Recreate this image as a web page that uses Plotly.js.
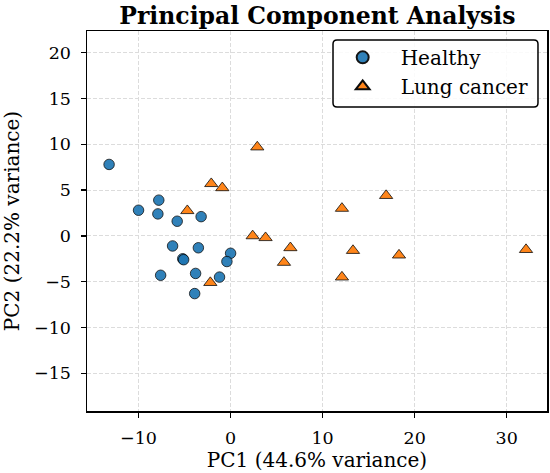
<!DOCTYPE html>
<html>
<head>
<meta charset="utf-8">
<script src="https://cdn.plot.ly/plotly-3.0.1.min.js"></script>
<style>
  html, body { margin: 0; padding: 0; background: #ffffff; }
  #chart { width: 550px; height: 473px; }
</style>
</head>
<body>
<div id="chart"></div>
<script>
// PCA scores per sample group
const healthyPC1 = [-13.2, -10.0, -7.8, -7.9, -5.8, -3.2, -6.3, -3.5, -5.2, -5.1, 0.0, -0.4, -7.6, -3.8, -1.2, -3.9];
const healthyPC2 = [7.8, 2.8, 3.9, 2.4, 1.6, 2.1, -1.1, -1.3, -2.5, -2.6, -1.9, -2.8, -4.3, -4.1, -4.5, -6.3];

const cancerPC1 = [2.9, -2.1, -0.9, -4.7, 2.4, -2.2, 16.9, 12.1, 3.8, 6.5, 5.8, 13.3, 18.3, 12.1, 32.1];
const cancerPC2 = [9.7, 5.7, 5.25, 2.75, 0.0, -5.1, 4.4, 3.0, -0.2, -1.3, -2.9, -1.6, -2.1, -4.5, -1.5];

const groupNames = ['Healthy', 'Lung cancer'];
const axisTitles = ['PC1 (44.6% variance)', 'PC2 (22.2% variance)'];
const chartTitle = 'Principal Component Analysis';
const xTicks = [-10, 0, 10, 20, 30];
const yTicks = [-15, -10, -5, 0, 5, 10, 15, 20];

const FONT = 'DejaVu Serif, Liberation Serif, serif';

const traces = [
  {
    type: 'scatter', mode: 'markers', name: groupNames[0],
    x: healthyPC1, y: healthyPC2,
    marker: { symbol: 'circle', size: 10.5, color: '#1f77b4', opacity: 0.92,
              line: { color: '#000000', width: 0.8 } }
  },
  {
    type: 'scatter', mode: 'markers', name: groupNames[1],
    x: cancerPC1, y: cancerPC2,
    marker: { symbol: 'triangle-up', size: 11.5, color: '#ff7f0e', opacity: 0.95,
              line: { color: '#000000', width: 0.8 } }
  }
];

const axisCommon = {
  showline: true, mirror: true, linecolor: '#000000', linewidth: 1.5,
  ticks: 'outside', ticklen: 5, tickwidth: 1.5, tickcolor: '#000000',
  showgrid: true, gridcolor: '#dcdcdc', gridwidth: 1, griddash: '4px,2px',
  zeroline: false,
  tickfont: { family: FONT, size: 17.5, color: '#000000' }
};

const layout = {
  width: 550, height: 473,
  margin: { l: 87, r: 3, t: 31, b: 62 },
  paper_bgcolor: '#ffffff', plot_bgcolor: '#ffffff',
  title: {
    text: '<b>' + chartTitle + '</b>',
    font: { family: FONT, size: 23.5, color: '#000000' },
    x: 0.577, xanchor: 'center', y: 0.967, yanchor: 'middle'
  },
  xaxis: Object.assign({}, axisCommon, {
    range: [-15.6, 34.38],
    tickmode: 'array', tickvals: xTicks,
    ticklabelstandoff: 5,
    title: { text: axisTitles[0], font: { family: FONT, size: 20, color: '#000000' }, standoff: 4 }
  }),
  yaxis: Object.assign({}, axisCommon, {
    range: [-19.12, 22.37],
    tickmode: 'array', tickvals: yTicks,
    ticklabelstandoff: 6,
    title: { text: axisTitles[1], font: { family: FONT, size: 20, color: '#000000' }, standoff: 10 }
  }),
  showlegend: true,
  legend: {
    x: 0.5167, y: 0.982, xanchor: 'left', yanchor: 'top',
    bgcolor: 'rgba(0,0,0,0)', borderwidth: 0,
    font: { family: FONT, size: 20, color: '#000000' },
    itemsizing: 'constant', itemwidth: 66, tracegroupgap: 0
  },
  shapes: [
    {
      // rounded frame behind the legend
      type: 'path', xref: 'paper', yref: 'paper', layer: 'above',
      path: 'M 0.5435,0.8000 L 0.9717,0.8000 Q 0.9804,0.8000 0.9804,0.8105 L 0.9804,0.9658 Q 0.9804,0.9763 0.9717,0.9763 L 0.5435,0.9763 Q 0.5348,0.9763 0.5348,0.9658 L 0.5348,0.8105 Q 0.5348,0.8000 0.5435,0.8000 Z',
      line: { color: '#000000', width: 1.5 }, fillcolor: 'rgba(255,255,255,0.85)'
    }
  ]
};

Plotly.newPlot('chart', traces, layout, { displayModeBar: false, staticPlot: true });
</script>
</body>
</html>
